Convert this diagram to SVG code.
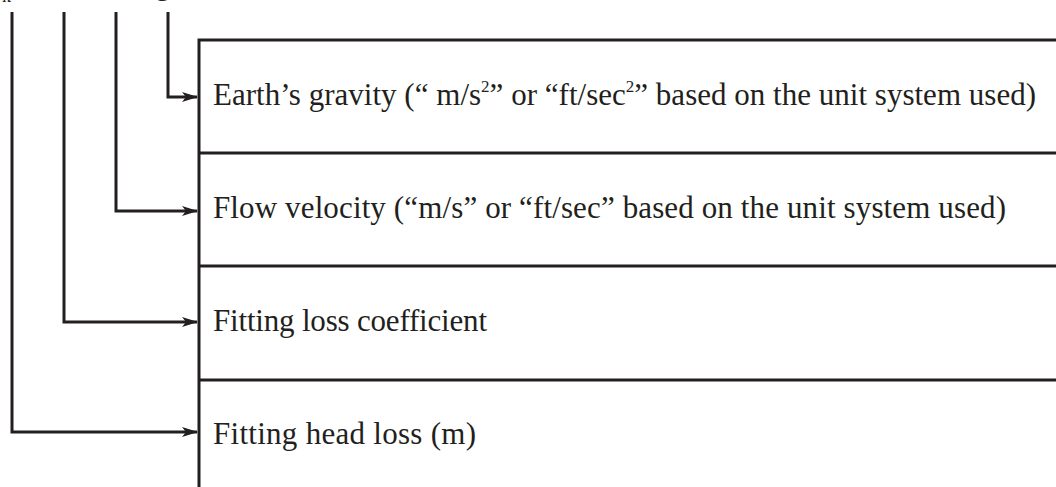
<svg xmlns="http://www.w3.org/2000/svg" width="1056" height="487" viewBox="0 0 1056 487">
<style>
.ln{stroke:#231f20;stroke-width:3;fill:none}
.t{font-family:"Liberation Serif","Times New Roman",serif;font-size:31px;fill:#231f20}
.sup{font-size:17px}
</style>
<defs>
<marker id="ah" markerWidth="16" markerHeight="10" refX="15" refY="5" orient="auto" markerUnits="userSpaceOnUse">
<path d="M0,0 L16,5 L0,10 L4,5 Z" fill="#231f20"/>
</marker>
</defs>
<rect width="1056" height="487" fill="#fff"/>
<text class="t" x="2" y="2" style="font-size:18px">k</text>
<text class="t" x="155" y="-6">g</text>
<g id="boxes">
<g id="node-gravity"><path class="ln" d="M199,487 V40 H1056"/><text class="t" x="213" y="105" textLength="823" lengthAdjust="spacing">Earth’s gravity (“ m/s<tspan class="sup" dy="-13">2</tspan><tspan dy="13">” or “ft/sec</tspan><tspan class="sup" dy="-13">2</tspan><tspan dy="13">” based on the unit system used)</tspan></text></g>
<g id="node-velocity"><path class="ln" d="M199,153 H1056"/><text class="t" x="213" y="218" textLength="793" lengthAdjust="spacing">Flow velocity (“m/s” or “ft/sec” based on the unit system used)</text></g>
<g id="node-coef"><path class="ln" d="M199,266 H1056"/><text class="t" x="213" y="331" textLength="274" lengthAdjust="spacing">Fitting loss coefficient</text></g>
<g id="node-headloss"><path class="ln" d="M199,380 H1056"/><text class="t" x="213" y="444" textLength="263" lengthAdjust="spacing">Fitting head loss (m)</text></g>
</g>
<g id="connectors">
<path class="ln" d="M168,12 V97 H197" marker-end="url(#ah)"/>
<path class="ln" d="M116,12 V211 H197" marker-end="url(#ah)"/>
<path class="ln" d="M64,12 V322 H197" marker-end="url(#ah)"/>
<path class="ln" d="M12,12 V432 H197" marker-end="url(#ah)"/>
</g>
</svg>
